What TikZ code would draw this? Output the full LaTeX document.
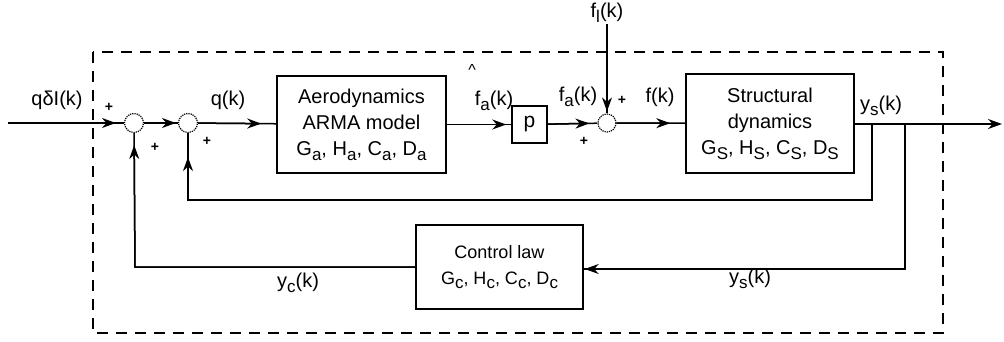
\documentclass[tikz,border=0pt]{standalone}
\usepackage{fontspec}
\setmainfont{Liberation Sans}
\usetikzlibrary{arrows.meta}
\newcommand\lowsub[1]{\raisebox{-0.45ex}{\fontsize{17}{17}\selectfont #1}}
\begin{document}
\begin{tikzpicture}[x=1pt,y=-1pt,
  line/.style={line width=1.5pt},
  blk/.style={draw,line width=1.5pt,inner sep=0pt,align=center,font=\fontsize{20}{26}\selectfont},
  sumc/.style={draw,circle,line width=1.2pt,densely dotted,minimum size=19pt,inner sep=0pt},
  ar/.style={postaction={draw,-{Stealth[length=14pt,width=10pt]},shorten >=#1}},
  lbl/.style={font=\fontsize{20}{22}\selectfont,inner sep=0pt},
  pl/.style={font=\fontsize{14}{14}\selectfont\bfseries,inner sep=0pt},
  frame/.style={line width=1.5pt,dash pattern=on 11pt off 8pt}]
\useasboundingbox (0,0) rectangle (1004,341);
\draw[frame] (93,52) rectangle (943,333);
% nodes
\coordinate (in) at (8,123);
\node[sumc] (s1) at (134,123) {};
\node[sumc] (s2) at (188,123) {};
\node[blk,minimum width=169pt,minimum height=97pt] (aero) at (361.5,124.5)
  {Aerodynamics\\ARMA model\\G\lowsub{a}, H\lowsub{a}, C\lowsub{a}, D\lowsub{a}};
\node[blk,minimum width=35pt,minimum height=37pt,font=\fontsize{21}{22}\selectfont] (p) at (529.5,124.5) {p};
\node[sumc,minimum size=18pt] (s3) at (607,123) {};
\node[blk,minimum width=168pt,minimum height=99pt] (str) at (770,123.5)
  {Structural\\dynamics\\G\lowsub{S}, H\lowsub{S}, C\lowsub{S}, D\lowsub{S}};
\node[blk,minimum width=167pt,minimum height=84pt,font=\fontsize{18}{26}\selectfont] (ctl) at (499.5,267)
  {Control law\\G\lowsub{c}, H\lowsub{c}, C\lowsub{c}, D\lowsub{c}};
\coordinate (out) at (1002,124);
\coordinate (b1) at (872,124);
\coordinate (b2) at (905,124);
\coordinate (c1) at (872,200);
\coordinate (c2) at (188,200);
\coordinate (d1) at (905,269);
\coordinate (d2) at (135,267);
\coordinate (fl) at (607,24);
% connectors
\draw[line,ar=8pt] (in) -- (s1);
\draw[line,ar=2pt] (s1) -- (s2);
\draw[line,ar=15pt] (s2) -- (aero);
\draw[line,ar=5pt] (aero) -- (p);
\draw[line,ar=8pt] (p) -- (s3);
\draw[line,ar=15pt] (s3) -- (str);
\draw[line,ar=2pt] (fl) -- (s3);
\draw[line,-{Stealth[length=14pt,width=10pt]}] (str.east |- out) -- (out);
\draw[line,ar=24pt] (b1) -- (c1) -- (c2) -- (s2);
\draw[line,ar=1pt] (b2) -- (d1) -- (ctl.east |- d1);
\draw[line,ar=12pt] (ctl.west) -- (d2) -- (s1);
% labels
\node[lbl] (lq) at (57,100) {qδI(k)};
\node[pl] (p1) at (109,107) {+};
\node[pl] (p2) at (155,147) {+};
\node[pl] (p3) at (207,141) {+};
\node[lbl] (lqk) at (228,100) {q(k)};
\node[lbl] (hat) at (472,70) {\fontsize{16}{16}\selectfont\textasciicircum};
\node[lbl] (lfa1) at (494,101) {f\lowsub{a}(k)};
\node[lbl] (lfa2) at (578,97) {f\lowsub{a}(k)};
\node[pl] (p4) at (622,100) {+};
\node[pl] (p5) at (584,141) {+};
\node[lbl] (lf) at (660,97) {f(k)};
\node[lbl] (lfl) at (607,13) {f\lowsub{l}(k)};
\node[lbl] (lys) at (881,106) {y\lowsub{s}(k)};
\node[lbl] (lyc) at (298,283) {y\lowsub{c}(k)};
\node[lbl] (lys2) at (750,279) {y\lowsub{s}(k)};
\end{tikzpicture}
\end{document}
